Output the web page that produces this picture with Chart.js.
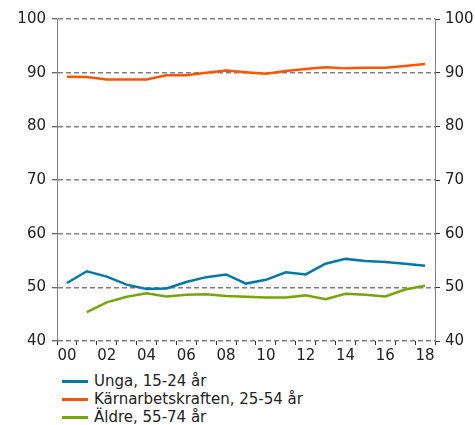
<!DOCTYPE html>
<html>
<head>
<meta charset="utf-8">
<script src="https://cdn.jsdelivr.net/npm/chart.js@4/dist/chart.umd.min.js"></script>
<style>
  body { margin: 0; background: #fff; font-family: "DejaVu Sans", sans-serif; }
  #wrap { position: relative; width: 475px; height: 425px; }
  #chartBox { position: absolute; left: 0; top: 0; width: 475px; height: 365px; }
  #legend { position: absolute; left: 62px; top: 372px; font-size: 15px; color: #222; }
  .item { height: 18px; line-height: 18px; display: flex; align-items: center; }
  .swatch { width: 26px; height: 3px; margin-right: 6px; }
</style>
</head>
<body>
<div id="wrap">
  <div id="chartBox"><canvas id="lineChart"></canvas></div>
  <div id="legend"></div>
</div>
<script>
// years 2000-2018, shown as two digits
const years = ["00","01","02","03","04","05","06","07","08","09","10","11","12","13","14","15","16","17","18"];

const unga = [50.8, 53.0, 52.0, 50.5, 49.7, 49.8, 51.0, 51.9, 52.4, 50.7, 51.4, 52.8, 52.4, 54.4, 55.3, 54.9, 54.7, 54.4, 54.0];
const karna = [89.25, 89.2, 88.75, 88.75, 88.75, 89.5, 89.5, 90.0, 90.4, 90.1, 89.8, 90.3, 90.7, 91.0, 90.8, 90.9, 90.9, 91.25, 91.6];
const aldre = [null, 45.4, 47.2, 48.25, 48.9, 48.3, 48.6, 48.7, 48.4, 48.25, 48.1, 48.1, 48.5, 47.8, 48.8, 48.6, 48.3, 49.6, 50.3];

const seriesNames = ["Unga, 15-24 år", "Kärnarbetskraften, 25-54 år", "Äldre, 55-74 år"];
const seriesColors = ["#0678a8", "#ff5500", "#78a40c"];

const tickFont = { family: "DejaVu Sans", size: 15 };

const datasets = [unga, karna, aldre].map(function (vals, i) {
    return {
        label: seriesNames[i],
        data: vals,
        borderColor: seriesColors[i],
        backgroundColor: seriesColors[i],
        borderWidth: 2.5,
        pointRadius: 0,
        tension: 0
    };
});

new Chart(document.getElementById("lineChart"), {
    type: "line",
    data: { labels: years, datasets: datasets },
    options: {
        responsive: true,
        maintainAspectRatio: false,
        animation: false,
        layout: { padding: { top: 19, left: 0, right: 0, bottom: 0 } },
        plugins: {
            legend: { display: false },
            tooltip: { enabled: false }
        },
        scales: {
            x: {
                offset: true,
                grid: { offset: true, drawOnChartArea: false, tickLength: 4, color: "#333", tickWidth: 1 },
                border: { display: false },
                ticks: {
                    autoSkip: false,
                    maxRotation: 0,
                    padding: 2,
                    color: "#222",
                    font: tickFont,
                    callback: function (val, idx) { return idx % 2 === 0 ? years[idx] : ""; }
                },
                afterFit: function (scale) { scale.height = 24; }
            },
            y: {
                position: "left",
                min: 40,
                max: 100,
                ticks: { stepSize: 10, padding: 6, color: "#222", font: tickFont },
                grid: { color: "#808080", lineWidth: 1.5, tickLength: 5, tickColor: "#333", tickWidth: 1 },
                border: { color: "#808080", width: 1, dash: [5, 3] },
                afterFit: function (scale) { scale.width = 57; }
            },
            y2: {
                position: "right",
                min: 40,
                max: 100,
                ticks: { stepSize: 10, padding: 5, color: "#222", font: tickFont },
                grid: { drawOnChartArea: false, tickLength: 5, color: "#333", tickWidth: 1 },
                border: { color: "#808080", width: 1 },
                afterFit: function (scale) { scale.width = 40; }
            }
        }
    }
});

// legend below the chart, one row per series
const legendEl = document.getElementById("legend");
seriesNames.forEach(function (name, i) {
    const row = document.createElement("div");
    row.className = "item";
    row.innerHTML = '<span class="swatch" style="background:' + seriesColors[i] + '"></span><span>' + name + '</span>';
    legendEl.appendChild(row);
});
</script>
</body>
</html>
